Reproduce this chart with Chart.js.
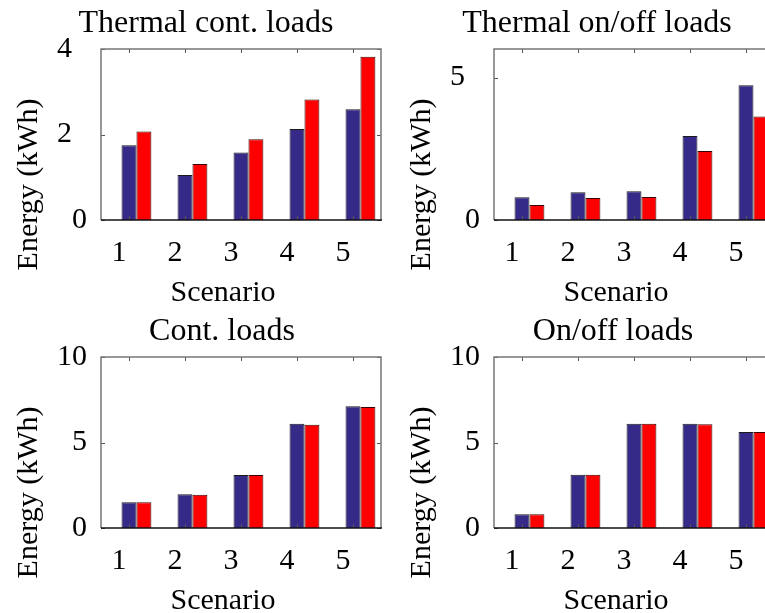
<!DOCTYPE html>
<html lang="en">
  <head>
    <meta charset="utf-8" />
    <title>Energy per scenario</title>
    <style>
      * {
        margin: 0;
        padding: 0;
      }
      body {
        width: 765px;
        height: 613px;
        overflow: hidden;
        background: #fff;
        position: relative;
      }
      .cell {
        position: absolute;
        width: 412px;
        height: 306px;
      }
    </style>
  </head>
  <body>
    <div class="cell" style="left: 0; top: 0"><canvas id="c1" width="412" height="306"></canvas></div>
    <div class="cell" style="left: 393px; top: 0"><canvas id="c2" width="412" height="306"></canvas></div>
    <div class="cell" style="left: 0; top: 308px"><canvas id="c3" width="412" height="306"></canvas></div>
    <div class="cell" style="left: 393px; top: 308px"><canvas id="c4" width="412" height="306"></canvas></div>
    <script src="https://cdn.jsdelivr.net/npm/chart.js"></script>
    <script>
      // data
      const scenarios = ["1", "2", "3", "4", "5"];
      const thermalContBlue = [1.75, 1.05, 1.58, 2.13, 2.59];
      const thermalContRed = [2.07, 1.31, 1.89, 2.82, 3.82];
      const thermalOnOffBlue = [0.8, 0.97, 1.01, 2.95, 4.73];
      const thermalOnOffRed = [0.53, 0.77, 0.81, 2.42, 3.63];
      const contBlue = [1.51, 1.98, 3.1, 6.1, 7.12];
      const contRed = [1.51, 1.94, 3.1, 6.04, 7.08];
      const onOffBlue = [0.8, 3.12, 6.1, 6.1, 5.61];
      const onOffRed = [0.8, 3.12, 6.1, 6.06, 5.61];

      const FONT = "'Liberation Serif', 'Times New Roman', serif";
      Chart.defaults.font.family = FONT;
      Chart.defaults.font.size = 30;
      Chart.defaults.color = "#000";

      // matlab-ish box, inward ticks and axis texts
      const matlabAxes = {
        id: "matlabAxes",
        afterDatasetsDraw(chart, args, opts) {
          const { ctx, chartArea: a, scales: { x, y } } = chart;
          ctx.save();
          ctx.strokeStyle = "#555";
          ctx.lineWidth = 1;
          ctx.beginPath();
          x.ticks.forEach((t, i) => {
            const px = Math.round(x.getPixelForTick(i)) + 0.5;
            ctx.moveTo(px, a.top);
            ctx.lineTo(px, a.top + 4);
            ctx.moveTo(px, a.bottom);
            ctx.lineTo(px, a.bottom - 4);
          });
          y.ticks.forEach((t, i) => {
            const py = Math.round(y.getPixelForTick(i)) + 0.5;
            ctx.moveTo(a.left, py);
            ctx.lineTo(a.left + 4, py);
            ctx.moveTo(a.right, py);
            ctx.lineTo(a.right - 4, py);
          });
          ctx.stroke();

          // box
          ctx.strokeStyle = "#777";
          ctx.lineWidth = 1.5;
          ctx.beginPath();
          ctx.moveTo(a.left, a.bottom);
          ctx.lineTo(a.left, a.top);
          ctx.lineTo(a.right, a.top);
          ctx.lineTo(a.right, a.bottom);
          ctx.stroke();
          ctx.strokeStyle = "#111";
          ctx.beginPath();
          ctx.moveTo(a.left, a.bottom);
          ctx.lineTo(a.right + 1, a.bottom);
          ctx.stroke();

          // texts
          const cx = (a.left + a.right) / 2;
          ctx.fillStyle = "#000";
          ctx.textAlign = "center";
          ctx.textBaseline = "alphabetic";
          ctx.font = "32px " + FONT;
          ctx.fillText(opts.title, cx + opts.titleShift, a.top - 17);
          ctx.font = "30px " + FONT;
          ctx.fillText("Scenario", cx - 18, a.bottom + 81);
          ctx.translate(a.left - 72, (a.top + a.bottom) / 2 + 50);
          ctx.rotate(-Math.PI / 2);
          ctx.textBaseline = "middle";
          ctx.fillText("Energy (kWh)", 0, 0);
          ctx.restore();
        },
      };

      function makeChart(id, blue, red, yMax, yStep, ticksShifted, title, titleShift) {
        return new Chart(document.getElementById(id), {
          type: "bar",
          data: {
            labels: scenarios,
            datasets: [
              // empty slot so the pair sits right of the tick, as in the original
              { data: [] },
              {
                data: blue,
                backgroundColor: "#352a87",
                borderColor: "#1a1a1a",
                borderWidth: 1,
              },
              {
                data: red,
                backgroundColor: "#ff0000",
                borderColor: "#3a0000",
                borderWidth: 1,
              },
            ],
          },
          options: {
            responsive: false,
            animation: false,
            categoryPercentage: 0.8,
            barPercentage: 1,
            layout: { padding: { left: 0, top: 49, right: 31, bottom: 36 } },
            plugins: {
              legend: { display: false },
              tooltip: { enabled: false },
              matlabAxes: { title, titleShift },
            },
            scales: {
              x: {
                grid: { display: false, drawTicks: false },
                border: { display: false },
                ticks: { padding: 15, labelOffset: -10, maxRotation: 0 },
                afterFit(s) {
                  s.height = 50;
                },
              },
              y: {
                min: 0,
                max: yMax,
                grid: { display: false, drawTicks: false },
                border: { display: false },
                ticks: {
                  stepSize: yStep,
                  includeBounds: false,
                  padding: 14,
                  callback: (v) => (ticksShifted && v !== 0 ? v + "\u2002" : String(v)),
                },
                afterFit(s) {
                  s.width = 101;
                },
              },
            },
          },
          plugins: [matlabAxes],
        });
      }

      makeChart("c1", thermalContBlue, thermalContRed, 4, 2, true, "Thermal cont. loads", -35);
      makeChart("c2", thermalOnOffBlue, thermalOnOffRed, 6, 5, true, "Thermal on/off loads", -37);
      makeChart("c3", contBlue, contRed, 10, 5, false, "Cont. loads", -19);
      makeChart("c4", onOffBlue, onOffRed, 10, 5, false, "On/off loads", -21);
    </script>
  </body>
</html>
